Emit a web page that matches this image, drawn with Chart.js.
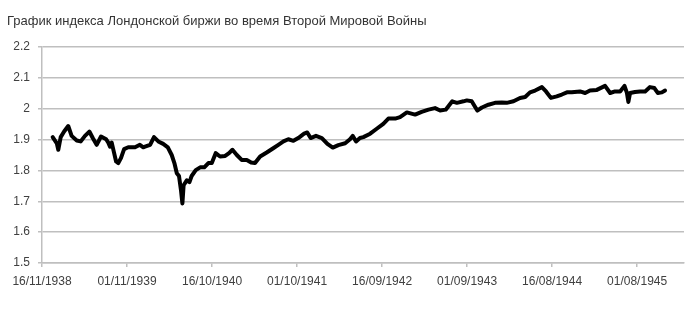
<!DOCTYPE html>
<html>
<head>
<meta charset="utf-8">
<script src="https://cdn.jsdelivr.net/npm/chart.js@4/dist/chart.umd.min.js"></script>
<style>
  body { margin: 0; background: #fff; }
</style>
</head>
<body>
<canvas id="chart" width="700" height="311"></canvas>
<script>
const chartTitle = 'График индекса Лондонской биржи во время Второй Мировой Войны';

// days since 16/11/1938
const dayOffsets = [
  44, 61, 67, 77, 91, 108, 122, 143, 159, 177, 195, 209, 225, 243, 264, 273, 280, 287, 297, 305,
  314, 325, 338, 355, 383, 403, 417, 424, 445, 461, 479, 499, 518, 534, 545, 555, 564, 572, 578, 583,
  596, 607, 616, 633, 651, 668, 685, 699, 715, 733, 754, 770, 784, 802, 822, 843, 861, 877, 898, 925,
  952, 973, 994, 1014, 1035, 1055, 1079, 1092, 1106, 1128, 1152, 1175, 1197, 1220, 1248, 1268, 1279, 1293, 1309, 1323,
  1351, 1378, 1405, 1426, 1454, 1474, 1502, 1536, 1563, 1591, 1618, 1639, 1662, 1689, 1708, 1735, 1749, 1769, 1792, 1811,
  1838, 1865, 1893, 1913, 1941, 1968, 1989, 2009, 2030, 2058, 2075, 2095, 2119, 2140, 2161, 2181, 2215, 2236, 2256, 2284,
  2318, 2339, 2359, 2380, 2398, 2408, 2414, 2421, 2441, 2462, 2483, 2503, 2521, 2535, 2552, 2565
];

const indexValues = [
  1.908, 1.888, 1.867, 1.908, 1.926, 1.944, 1.912, 1.897, 1.894, 1.912, 1.926, 1.905, 1.883, 1.910, 1.901, 1.890, 1.877, 1.890, 1.856, 1.829,
  1.824, 1.840, 1.869, 1.875, 1.875, 1.883, 1.875, 1.877, 1.883, 1.908, 1.894, 1.886, 1.875, 1.850, 1.824, 1.791, 1.782, 1.737, 1.693, 1.752,
  1.768, 1.762, 1.782, 1.801, 1.810, 1.810, 1.824, 1.824, 1.856, 1.845, 1.847, 1.856, 1.867, 1.850, 1.834, 1.834, 1.826, 1.824, 1.845, 1.858,
  1.872, 1.883, 1.894, 1.901, 1.896, 1.905, 1.919, 1.923, 1.905, 1.912, 1.905, 1.886, 1.874, 1.882, 1.888, 1.901, 1.912, 1.894, 1.905, 1.908,
  1.919, 1.935, 1.951, 1.968, 1.968, 1.973, 1.988, 1.981, 1.990, 1.997, 2.002, 1.994, 1.997, 2.024, 2.019, 2.024, 2.027, 2.024, 1.994, 2.004,
  2.013, 2.019, 2.020, 2.019, 2.024, 2.035, 2.038, 2.053, 2.059, 2.070, 2.056, 2.035, 2.040, 2.046, 2.053, 2.053, 2.056, 2.051, 2.059, 2.061,
  2.074, 2.051, 2.056, 2.056, 2.074, 2.051, 2.022, 2.051, 2.054, 2.056, 2.056, 2.070, 2.067, 2.051, 2.053, 2.059
];

const tickDays = [0, 350, 700, 1050, 1400, 1750, 2100, 2450];
const tickLabels = ['16/11/1938', '01/11/1939', '16/10/1940', '01/10/1941', '16/09/1942', '01/09/1943', '16/08/1944', '01/08/1945'];

const points = dayOffsets.map((d, i) => ({ x: d, y: indexValues[i] }));

const axisGray = '#bfbfbf';
const textGray = '#404040';

const ctx = document.getElementById('chart').getContext('2d');
new Chart(ctx, {
  type: 'line',
  data: {
    datasets: [{
      data: points,
      borderColor: '#000',
      borderWidth: 4,
      borderJoinStyle: 'round',
      borderCapStyle: 'round',
      pointRadius: 0,
      tension: 0
    }]
  },
  options: {
    responsive: false,
    animation: false,
    layout: { padding: { left: 7, right: 16, top: 0, bottom: 0 } },
    plugins: {
      legend: { display: false },
      tooltip: { enabled: false },
      title: {
        display: true,
        text: chartTitle,
        align: 'start',
        color: '#333',
        font: { family: 'Liberation Sans, Arial, sans-serif', size: 13, weight: 'normal' },
        padding: { top: 14, bottom: 17.4 }
      }
    },
    scales: {
      x: {
        type: 'linear',
        min: 0,
        max: 2643,
        afterBuildTicks: axis => { axis.ticks = tickDays.map(v => ({ value: v })); },
        afterFit: scale => { scale.height = 48; },
        ticks: {
          color: textGray,
          font: { family: 'Liberation Sans, Arial, sans-serif', size: 12 },
          padding: 7,
          maxRotation: 0,
          autoSkip: false,
          callback: v => tickLabels[tickDays.indexOf(v)]
        },
        grid: { drawOnChartArea: false, drawTicks: true, tickLength: 4, color: axisGray, lineWidth: 1.5 },
        border: { display: true, color: axisGray, width: 1.5 }
      },
      y: {
        min: 1.5,
        max: 2.2,
        afterFit: scale => { scale.width = 35; },
        ticks: {
          stepSize: 0.1,
          color: textGray,
          font: { family: 'Liberation Sans, Arial, sans-serif', size: 12 },
          padding: 8,
          callback: v => String(+v.toFixed(1))
        },
        grid: { color: axisGray, lineWidth: 1.5, tickLength: 4 },
        border: { display: true, color: axisGray, width: 1.5 }
      }
    }
  }
});
</script>
</body>
</html>
